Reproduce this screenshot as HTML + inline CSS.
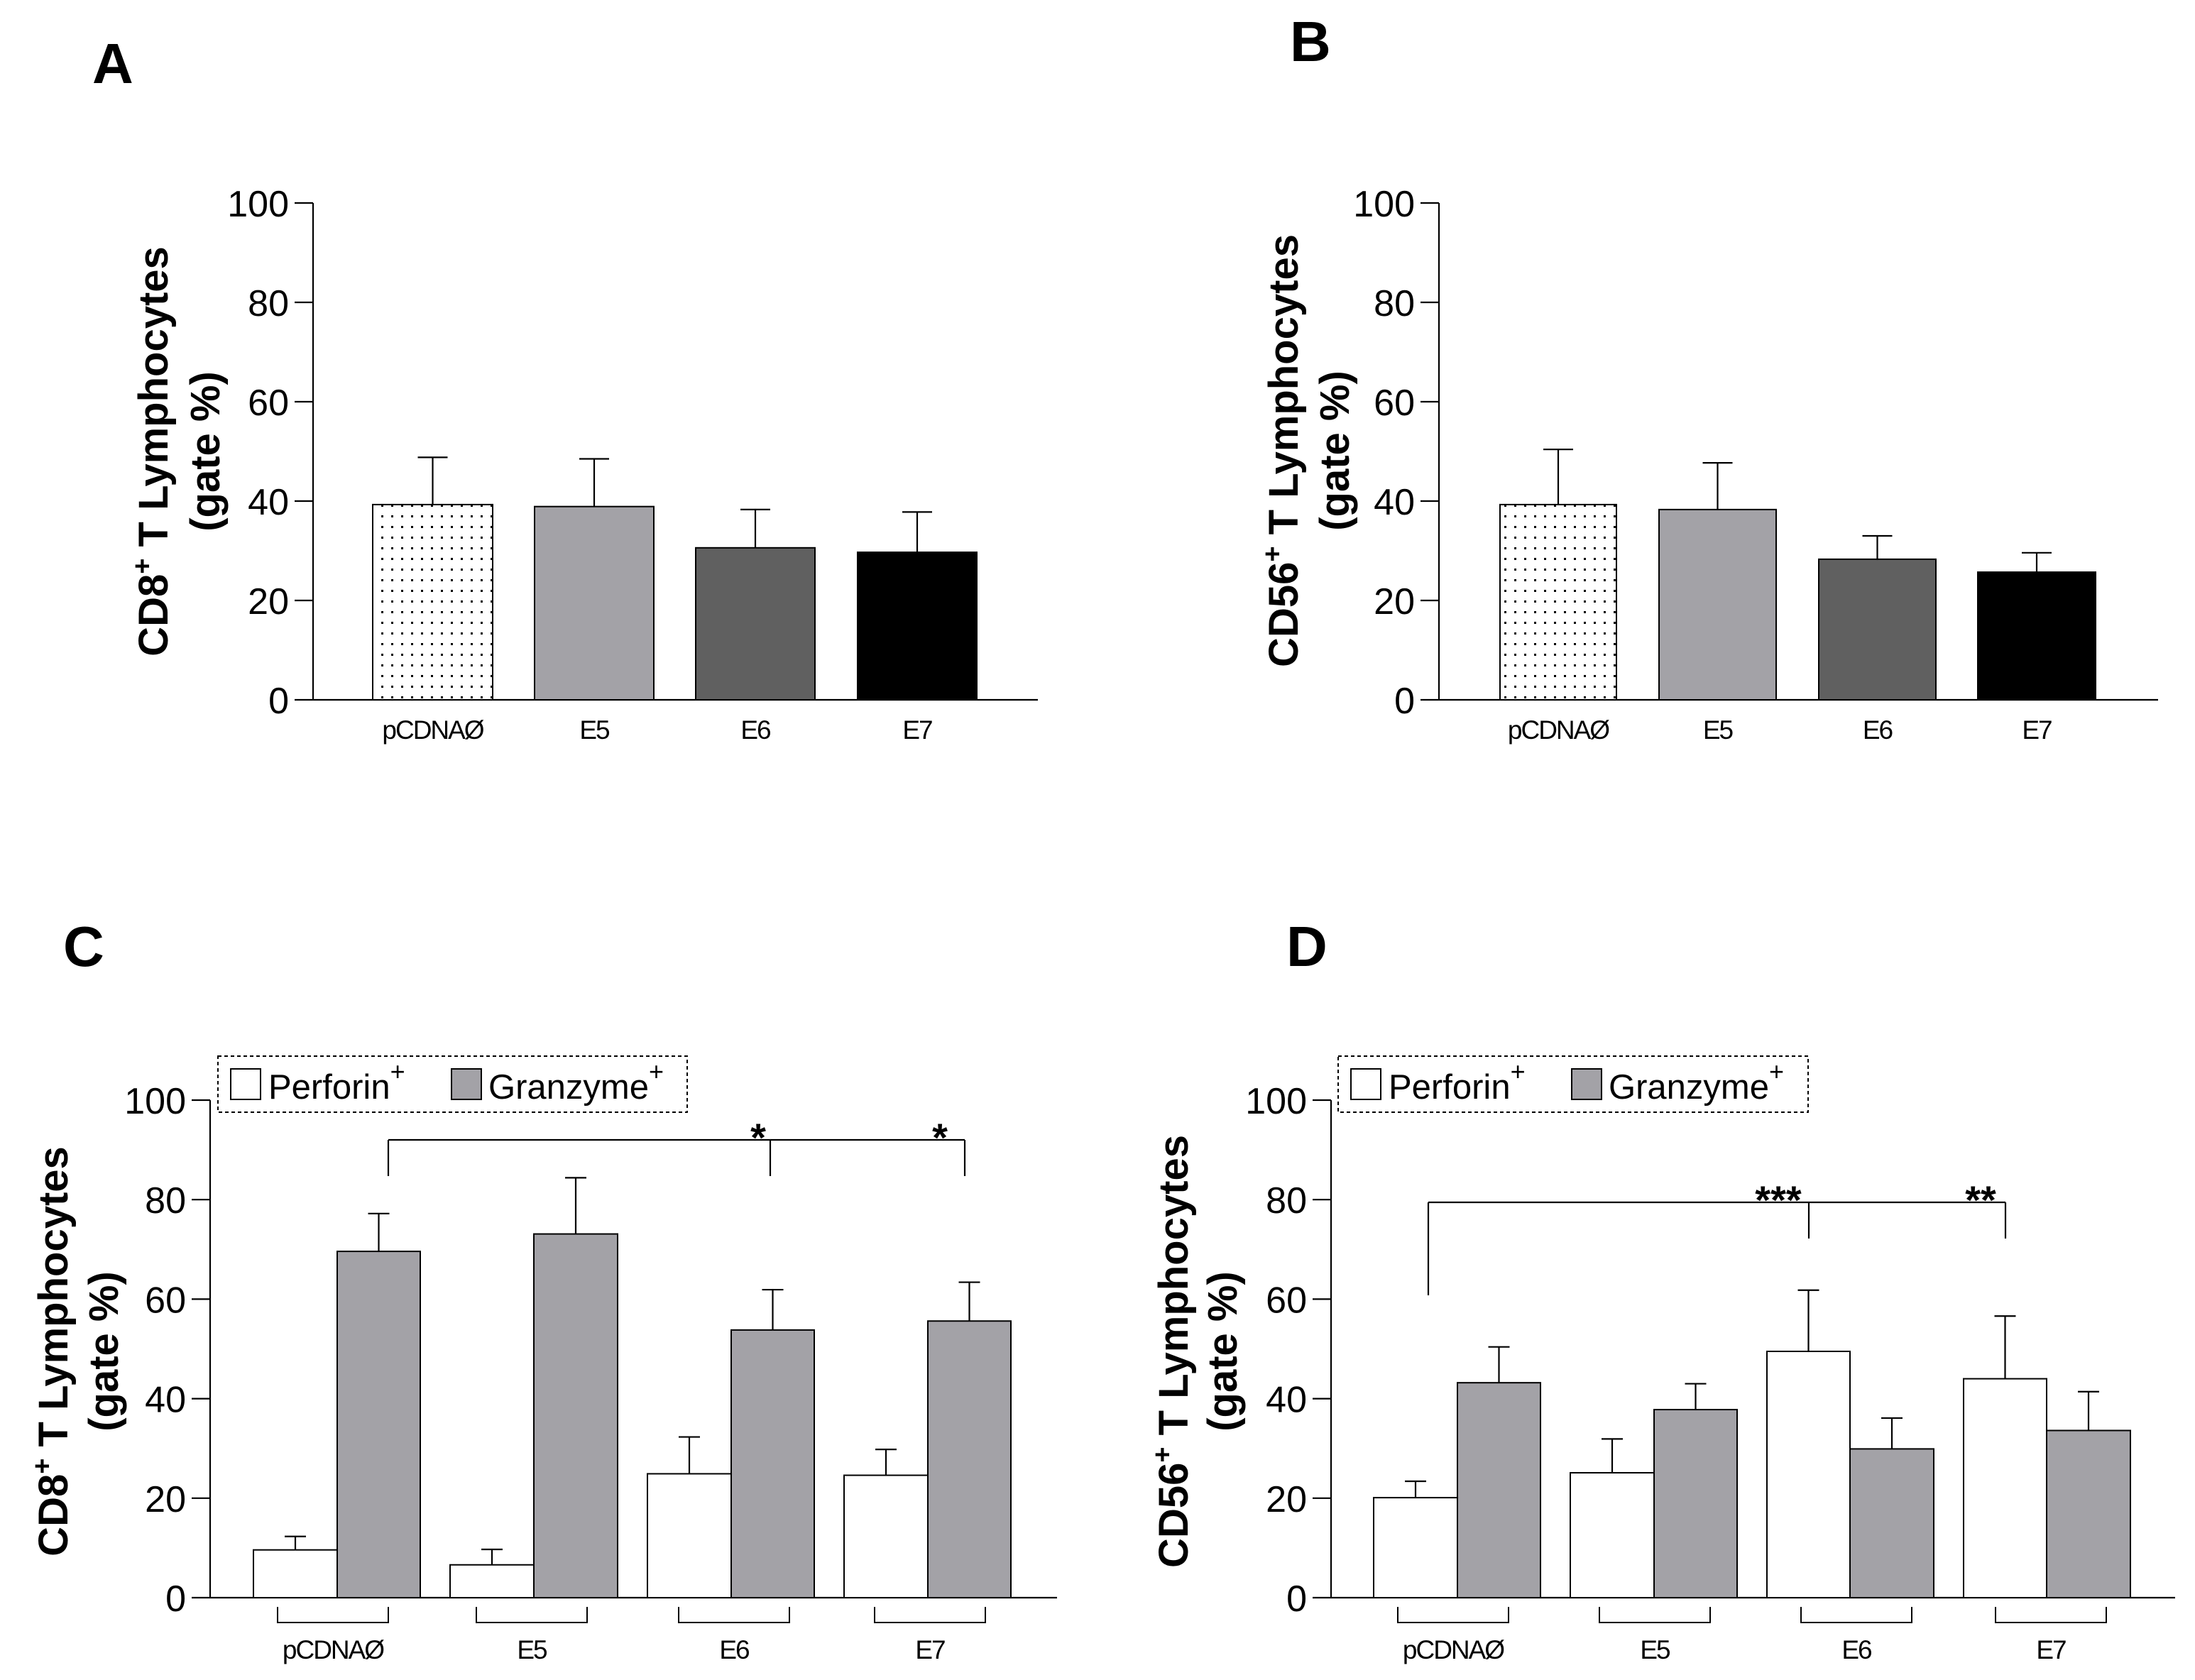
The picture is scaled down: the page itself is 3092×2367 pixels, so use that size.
<!DOCTYPE html>
<html><head><meta charset="utf-8"><style>
html,body{margin:0;padding:0;background:#fff}
svg{display:block}
text{font-family:"Liberation Sans",Arial,sans-serif;fill:#000}
</style></head><body>
<svg id="fig" width="3092" height="2367" viewBox="0 0 3092 2367" xmlns="http://www.w3.org/2000/svg">
<defs>
<pattern id="dots" width="14" height="15" patternUnits="userSpaceOnUse"><rect width="14" height="15" fill="#fff"/><rect x="5" y="6" width="3" height="3" fill="#000"/></pattern>
</defs>
</svg>
<script>
// ---- data ----
const categories = ["pCDNAØ","E5","E6","E7"];
const yTicks = [0,20,40,60,80,100];
const aValues = [39.3, 38.9, 30.6, 29.7];
const aErrors = [48.8, 48.5, 38.3, 37.8];
const bValues = [39.3, 38.3, 28.3, 25.7];
const bErrors = [50.4, 47.7, 33.0, 29.6];
const cPerforin = [9.6, 6.6, 24.9, 24.6];
const cPerforinErr = [12.3, 9.7, 32.3, 29.8];
const cGranzyme = [69.6, 73.1, 53.8, 55.6];
const cGranzymeErr = [77.2, 84.4, 61.9, 63.4];
const dPerforin = [20.1, 25.1, 49.5, 44.0];
const dPerforinErr = [23.4, 31.9, 61.8, 56.6];
const dGranzyme = [43.2, 37.8, 29.9, 33.6];
const dGranzymeErr = [50.4, 43.0, 36.1, 41.4];

const svg = document.getElementById('fig');
const NS = 'http://www.w3.org/2000/svg';
function mk(tag, attrs, parent){
  const e = document.createElementNS(NS, tag);
  for (const k in attrs) e.setAttribute(k, attrs[k]);
  (parent||svg).appendChild(e);
  return e;
}
function line(x1,y1,x2,y2,g,w){ return mk('line',{x1,y1,x2,y2,stroke:'#000','stroke-width':w||2.2},g); }

function panel(cfg){
  const g = mk('g',{});
  
  
  const y = v => cfg.y0 - (v/100)*(cfg.y0-cfg.y100);
  const L = mk('text',{x:cfg.letter[0],y:cfg.letter[1],'font-size':80,'font-weight':'bold'},g);
  L.textContent = cfg.letterText;
  
  
  const ya = line(cfg.ax, cfg.y100, cfg.ax, cfg.y0, g);
  
  
  const xa = line(cfg.ax, cfg.y0, cfg.axEnd, cfg.y0, g);
  
  
  yTicks.forEach(t=>{
    line(cfg.ax-26, y(t), cfg.ax, y(t), g);
    const tx = mk('text',{x:cfg.ax-34,y:y(t)+19,'font-size':52,'text-anchor':'end'},g);
    tx.textContent = t;
    
    
  });
  const tt = mk('text',{transform:`translate(${cfg.title[0]},${cfg.titleY}) rotate(-90)`,'font-size':58,'font-weight':'bold','text-anchor':'middle'},g);
  
  
  tt.innerHTML = cfg.titleText + '<tspan font-size="38" dy="-23">+</tspan><tspan dy="23"> T Lymphocytes</tspan>';
  const t2 = mk('text',{transform:`translate(${cfg.title[1]},${cfg.titleY}) rotate(-90)`,'font-size':58,'font-weight':'bold','text-anchor':'middle'},g);
  t2.textContent = '(gate %)';
  
  
  return {g,y};
}
function bar(g, x1, x2, v, err, fill, y, name, capW){
  const r = mk('rect',{x:x1,y:y(v),width:x2-x1,height:y(0)-y(v),fill:fill,stroke:'#000','stroke-width':2},g);
  
  
  const cx = (x1+x2)/2;
  const e = line(cx, y(v), cx, y(err), g);
  
  
  line(cx-capW/2, y(err), cx+capW/2, y(err), g);
}

function simplePanel(cfg, vals, errs, barsX){
  const p = panel(cfg);
  const fills = ['url(#dots)','#a3a2a7','#606060','#000'];
  categories.forEach((c,i)=>{
    const [x1,x2] = barsX[i];
    bar(p.g, x1, x2, vals[i], errs[i], fills[i], p.y, 'bar-'+c.toLowerCase().replace('ø','0'), 42);
    const t = mk('text',{x:(x1+x2)/2,y:1041,'font-size':37,'text-anchor':'middle',style:'letter-spacing:-2px'},p.g);
    t.textContent = c;
    
    
  });
}
simplePanel({name:'panel-a',letterText:'A',letter:[130,117],ax:441,axEnd:1462,y100:286,y0:986,title:[236,309],titleY:636,titleText:'CD8'},
  aValues, aErrors, [[525,694],[753,921],[980,1148],[1208,1376]]);
simplePanel({name:'panel-b',letterText:'B',letter:[1817,86],ax:2027,axEnd:3040,y100:286,y0:986,title:[1828,1900],titleY:635,titleText:'CD56'},
  bValues, bErrors, [[2113,2277],[2337,2502],[2562,2727],[2786,2952]]);

function groupPanel(cfg, perf, perfE, gran, granE, groups, brackets, sig){
  const p = panel(cfg);
  categories.forEach((c,i)=>{
    const [a,b,d] = groups[i];
    bar(p.g, a, b, perf[i], perfE[i], '#fff', p.y, 'bar-perforin-'+c.toLowerCase().replace('ø','0'), 30);
    bar(p.g, b, d, gran[i], granE[i], '#a3a2a7', p.y, 'bar-granzyme-'+c.toLowerCase().replace('ø','0'), 30);
    const [bx1,bx2] = brackets[i];
    const br = mk('polyline',{points:`${bx1},2264 ${bx1},2286 ${bx2},2286 ${bx2},2264`,fill:'none',stroke:'#000','stroke-width':2},p.g);
    
    
    const t = mk('text',{x:(bx1+bx2)/2,y:2337,'font-size':37,'text-anchor':'middle',style:'letter-spacing:-2px'},p.g);
    t.textContent = c;
    
    
  });
  const lg = mk('g',{},p.g);
  
  
  const lx = cfg.legendX;
  mk('rect',{x:lx,y:1488,width:cfg.legendW,height:79,fill:'none',stroke:'#000','stroke-width':2,'stroke-dasharray':'5,4'},lg);
  const s1 = mk('rect',{x:lx+18,y:1506,width:42,height:43,fill:'#fff',stroke:'#000','stroke-width':2},lg);
  
  
  const l1 = mk('text',{x:lx+71,y:1548,'font-size':49},lg);
  l1.innerHTML = 'Perforin<tspan font-size="36" dy="-26">+</tspan>';
  
  
  const s2 = mk('rect',{x:lx+329,y:1506,width:42,height:43,fill:'#a3a2a7',stroke:'#000','stroke-width':2},lg);
  
  
  const l2 = mk('text',{x:lx+381,y:1548,'font-size':49},lg);
  l2.innerHTML = 'Granzyme<tspan font-size="36" dy="-26">+</tspan>';
  
  
  const sg = mk('g',{},p.g);
  
  
  line(sig.x0, sig.y, sig.x2, sig.y, sg);
  line(sig.x0, sig.y, sig.x0, sig.leftBot, sg);
  line(sig.x1, sig.y, sig.x1, sig.bot, sg);
  line(sig.x2, sig.y, sig.x2, sig.bot, sg);
  sig.stars.forEach(s=>{
    const t = mk('text',{x:s[0],y:sig.y+16,'font-size':56,'font-weight':'bold','text-anchor':'middle'},sg);
    t.textContent = s[1];
    
    
  });
}
groupPanel({name:'panel-c',letterText:'C',letter:[89,1361],ax:296,axEnd:1489,y100:1550,y0:2251,title:[95,166],titleY:1904,titleText:'CD8',legendX:307,legendW:661},
  cPerforin, cPerforinErr, cGranzyme, cGranzymeErr,
  [[357,475,592],[634,752,870],[912,1030,1147],[1189,1307,1424]],
  [[391,547],[671,827],[956,1112],[1232,1388]],
  {y:1606,x0:547,x1:1085,x2:1359,leftBot:1657,bot:1657,stars:[[1068,'*'],[1324,'*']]});
groupPanel({name:'panel-d',letterText:'D',letter:[1812,1361],ax:1875,axEnd:3064,y100:1550,y0:2251,title:[1673,1742],titleY:1904,titleText:'CD56',legendX:1885,legendW:662},
  dPerforin, dPerforinErr, dGranzyme, dGranzymeErr,
  [[1935,2053,2170],[2212,2330,2447],[2489,2606,2724],[2766,2883,3001]],
  [[1969,2125],[2253,2409],[2537,2693],[2811,2967]],
  {y:1694,x0:2012,x1:2548,x2:2825,leftBot:1825,bot:1745,stars:[[2505,'***'],[2790,'**']]});
</script>
</body></html>
